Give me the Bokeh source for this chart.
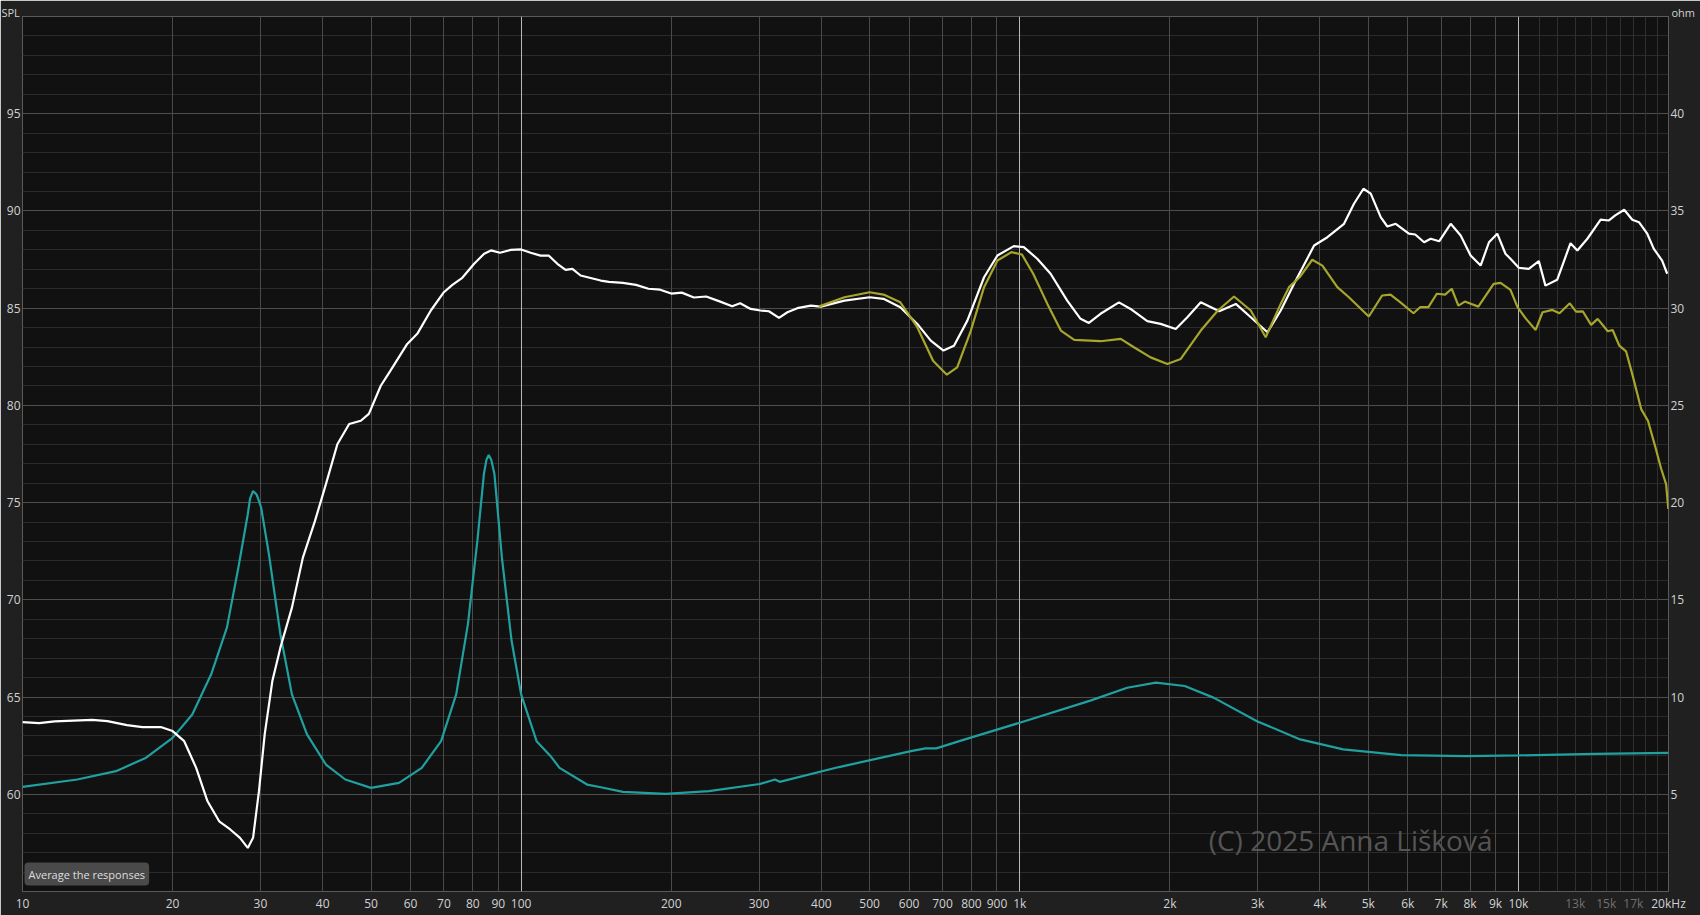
from bokeh.plotting import figure
from bokeh.models import Range1d, LinearAxis, LogAxis, FixedTicker, Grid, Label, LinearScale
from bokeh.embed import file_html
from bokeh.resources import INLINE

# ---------------- data ----------------
spl_freq = [10, 10.8, 11.6, 13.8, 14.8, 16.2, 17.4, 19.0, 20.0, 21.1, 22.3, 23.5, 24.8, 26.1,
            27.3, 28.3, 29.0, 29.8, 30.6, 31.7, 32.9, 34.7, 36.5, 38.6, 40.6, 42.8, 45.2, 47.7,
            49.5, 52.3, 54.7, 59.1, 61.9, 65.9, 70.0, 72.8, 76.2, 80.5, 84.3, 87.0, 90.7, 95.3,
            100, 104.5, 109.4, 113.7, 118.2, 122.8, 126.7, 131.6, 144.4, 150, 160, 170, 180, 190,
            200, 210, 222, 235, 250, 265, 275, 288.5, 302, 314, 329, 342, 358, 381, 399, 445,
            500, 533, 576, 623, 663, 703, 738, 785, 848, 902, 973, 1019, 1084, 1153, 1245, 1324,
            1376, 1452, 1581, 1668, 1802, 1916, 2055, 2168, 2307, 2512, 2712, 2906, 3138, 3337,
            3549, 3893, 4140, 4470, 4680, 4890, 5057, 5295, 5460, 5675, 6030, 6210, 6470, 6670,
            6935, 7315, 7660, 8020, 8400, 8730, 9070, 9420, 9640, 10020, 10490, 10990, 11330,
            11960, 12720, 13130, 13750, 14620, 15190, 15640, 16300, 16920, 17450, 18130, 18690,
            19420, 19880]
spl_db = [63.71, 63.66, 63.75, 63.83, 63.76, 63.56, 63.45, 63.45, 63.25, 62.73, 61.36, 59.64,
          58.61, 58.19, 57.76, 57.24, 57.76, 60.16, 63.08, 65.82, 67.54, 69.6, 72.17, 74.06,
          75.95, 78.0, 79.04, 79.21, 79.56, 81.01, 81.79, 83.16, 83.68, 84.88, 85.82, 86.2,
          86.56, 87.28, 87.8, 87.97, 87.85, 88.0, 88.02, 87.85, 87.7, 87.7, 87.28, 86.97, 87.02,
          86.68, 86.42, 86.35, 86.3, 86.2, 86.0, 85.95, 85.75, 85.8, 85.55, 85.6, 85.35, 85.1,
          85.25, 84.96, 84.88, 84.84, 84.5, 84.79, 85.0, 85.13, 85.08, 85.39, 85.56, 85.48,
          85.05, 84.19, 83.33, 82.82, 83.07, 84.36, 86.59, 87.71, 88.19, 88.14, 87.54, 86.77,
          85.39, 84.45, 84.24, 84.71, 85.3, 84.96, 84.33, 84.19, 83.93, 84.53, 85.3, 84.84,
          85.22, 84.53, 83.76, 84.88, 86.25, 88.22, 88.65, 89.34, 90.37, 91.14, 90.89, 89.68,
          89.2, 89.34, 88.83, 88.79, 88.39, 88.57, 88.44, 89.34, 88.74, 87.71, 87.19, 88.39,
          88.83, 87.8, 87.54, 87.08, 87.02, 87.42, 86.16, 86.46, 88.34, 87.97, 88.57, 89.55,
          89.51, 89.77, 90.06, 89.55, 89.42, 88.83, 88.05, 87.45, 86.77]

avg_freq = [395, 445, 500, 533, 576, 623, 670, 714, 749, 798, 848, 902, 962, 1010, 1064, 1136,
            1209, 1286, 1452, 1594, 1694, 1830, 1977, 2103, 2307, 2496, 2690, 2906, 3113, 3337,
            3467, 3641, 3860, 4045, 4334, 4571, 5012, 5330, 5540, 5800, 6160, 6350, 6600, 6860,
            7130, 7350, 7580, 7810, 8310, 8920, 9210, 9640, 9960, 10360, 10830, 11180, 11700,
            12090, 12680, 13050, 13460, 13990, 14420, 15110, 15450, 15940, 16440, 16950, 17630,
            18190, 18750, 19340, 19780, 19980]
avg_db = [85.08, 85.56, 85.82, 85.7, 85.3, 84.02, 82.3, 81.58, 81.96, 83.85, 86.08, 87.45, 87.88,
          87.76, 86.77, 85.22, 83.85, 83.37, 83.3, 83.42, 82.99, 82.47, 82.13, 82.39, 83.85,
          84.88, 85.6, 84.88, 83.5, 85.22, 86.08, 86.59, 87.49, 87.19, 86.08, 85.56, 84.57,
          85.65, 85.7, 85.3, 84.74, 85.05, 85.05, 85.74, 85.7, 86.0, 85.13, 85.34, 85.08, 86.25,
          86.3, 85.94, 85.05, 84.45, 83.88, 84.79, 84.91, 84.74, 85.25, 84.82, 84.84, 84.14,
          84.45, 83.81, 83.88, 83.07, 82.78, 81.53, 79.81, 79.21, 78.01, 76.73, 75.95, 74.67]

imp_freq = [10, 12.88, 15.4, 17.7, 20.0, 21.9, 23.9, 25.7, 27.1, 28.3, 28.6, 29.0, 29.5, 30.1,
            31.2, 32.9, 34.7, 37.2, 40.6, 44.4, 50.0, 56.9, 63.2, 69.1, 74.1, 78.2, 81.7, 84.2,
            85.2, 86.1, 87.1, 88.4, 91.5, 95.7, 100, 107.4, 114.6, 119.4, 135.6, 144.5, 160, 195,
            238, 301, 323, 330, 434, 605, 647, 680, 765, 1000, 1390, 1642, 1875, 2142, 2447, 2991,
            3651, 4453, 5816, 7850, 10000, 14290, 20000]
imp_ohm = [5.38, 5.76, 6.19, 6.88, 7.9, 9.1, 11.17, 13.57, 16.66, 19.4, 20.2, 20.6, 20.4, 19.75,
           17.35, 13.23, 10.14, 8.08, 6.53, 5.76, 5.33, 5.59, 6.36, 7.73, 10.14, 13.74, 18.03,
           21.47, 22.2, 22.45, 22.2, 21.47, 17.17, 12.88, 10.14, 7.73, 6.96, 6.36, 5.5, 5.36,
           5.12, 5.02, 5.16, 5.53, 5.76, 5.64, 6.4, 7.22, 7.36, 7.36, 7.77, 8.68, 9.83, 10.48,
           10.74, 10.57, 9.97, 8.76, 7.82, 7.31, 7.01, 6.96, 7.0, 7.08, 7.13]

x_ticks = [10, 20, 30, 40, 50, 60, 70, 80, 90, 100, 200, 300, 400, 500, 600, 700, 800, 900,
           1000, 2000, 3000, 4000, 5000, 6000, 7000, 8000, 9000, 10000, 20000]
x_tick_labels = ["10", "20", "30", "40", "50", "60", "70", "80", "90", "100", "200", "300",
                 "400", "500", "600", "700", "800", "900", "1k", "2k", "3k", "4k", "5k", "6k",
                 "7k", "8k", "9k", "10k", "20kHz"]
dim_ticks = [13000, 15000, 17000]
dim_tick_labels = ["13k", "15k", "17k"]
spl_ticks = [60, 65, 70, 75, 80, 85, 90, 95]
ohm_ticks = [5, 10, 15, 20, 25, 30, 35, 40]
corner_titles = ["SPL", "ohm"]

# ---------------- styling ----------------
FONT = "Open Sans"
BG = "#202020"
PLOT_BG = "#111111"
TXT = "#d2d2d2"
FS = "12px"

p = figure(width=1700, height=915, x_axis_type="log",
           x_range=Range1d(10, 20000), y_range=Range1d(55, 100),
           output_backend="svg", toolbar_location=None,
           background_fill_color=PLOT_BG, border_fill_color=BG,
           min_border_left=22, min_border_right=32, min_border_top=16,
           min_border_bottom=24)
p.outline_line_color = "#5a5a5a"
p.xgrid.visible = False
p.ygrid.visible = False

p.extra_y_ranges = {"ohm": Range1d(0, 45)}
p.extra_x_ranges = {"corner": Range1d(0, 1)}
p.extra_x_scales = {"corner": LinearScale()}

def style_axis(ax, color=TXT, size=FS):
    ax.axis_line_color = None
    ax.major_tick_line_color = None
    ax.minor_tick_line_color = None
    ax.major_tick_out = 0
    ax.major_tick_in = 0
    ax.minor_tick_out = 0
    ax.minor_tick_in = 0
    ax.major_label_text_color = color
    ax.major_label_text_font = FONT
    ax.major_label_text_font_size = size
    ax.major_label_standoff = 2

xa = p.xaxis[0]
xa.ticker = FixedTicker(ticks=x_ticks)
xa.major_label_overrides = {t: l for t, l in zip(x_ticks, x_tick_labels)}
style_axis(xa)
xa.major_label_standoff = 3

# dim labels of 13k / 15k / 17k, pulled back up into the same row
xd = LogAxis(ticker=FixedTicker(ticks=dim_ticks),
             major_label_overrides={t: l for t, l in zip(dim_ticks, dim_tick_labels)})
style_axis(xd, "#707070")
xd.major_label_standoff = -20
p.add_layout(xd, "below")

ya = p.yaxis[0]
ya.ticker = FixedTicker(ticks=spl_ticks)
style_axis(ya)

ra = LinearAxis(y_range_name="ohm", ticker=FixedTicker(ticks=ohm_ticks))
style_axis(ra)
p.add_layout(ra, "right")

# unit titles in the corners above the frame
ta = LinearAxis(x_range_name="corner", ticker=FixedTicker(ticks=[0, 1]),
                major_label_overrides={0: corner_titles[0] + "\u2003\u2003\u2009",
                                       1: "\u2003\u2003\u2002\u2009" + corner_titles[1]})
style_axis(ta, TXT, "11px")
ta.major_label_standoff = -3
p.add_layout(ta, "above")

# ---------------- grids ----------------
minor_db = [v for v in range(56, 100) if v % 5 != 0]
p.add_layout(Grid(dimension=1, ticker=FixedTicker(ticks=minor_db),
                  grid_line_color="#2b2b2b", grid_line_width=1))
p.add_layout(Grid(dimension=1, ticker=FixedTicker(ticks=spl_ticks),
                  grid_line_color="#4e4e4e", grid_line_width=1))
fine_hz = [11000, 12000, 13000, 14000, 15000, 16000, 17000, 18000, 19000]
p.add_layout(Grid(dimension=0, ticker=FixedTicker(ticks=fine_hz),
                  grid_line_color="#303030", grid_line_width=1))
mid_hz = [t for t in x_ticks if t not in (10, 100, 1000, 10000, 20000)]
p.add_layout(Grid(dimension=0, ticker=FixedTicker(ticks=mid_hz),
                  grid_line_color="#4a4a4a", grid_line_width=1))
p.add_layout(Grid(dimension=0, ticker=FixedTicker(ticks=[100, 1000, 10000]),
                  grid_line_color="#b8b8b8", grid_line_width=1))

# ---------------- curves ----------------
p.line(imp_freq, imp_ohm, y_range_name="ohm", line_color="#21a0a0", line_width=2.2)
p.line(spl_freq, spl_db, line_color="#ffffff", line_width=2.2)
p.line(avg_freq, avg_db, line_color="#a6a62c", line_width=2.2)

# ---------------- texts inside the frame ----------------
p.add_layout(Label(x=2393, y=57.64, text="(C) 2025 Anna Lišková", text_align="left",
                   text_baseline="middle", text_color="#555555", text_font=FONT,
                   text_font_size="28px"))

p.add_layout(Label(x=10, y=55, text="Average the responses", text_align="left",
                   text_baseline="bottom", x_offset=2, y_offset=6,
                   text_color="#dedede", text_font=FONT, text_font_size="11px",
                   background_fill_color="#4a4a4a", padding=4, border_radius=4))

open("out.html", "w").write(file_html(p, INLINE))
